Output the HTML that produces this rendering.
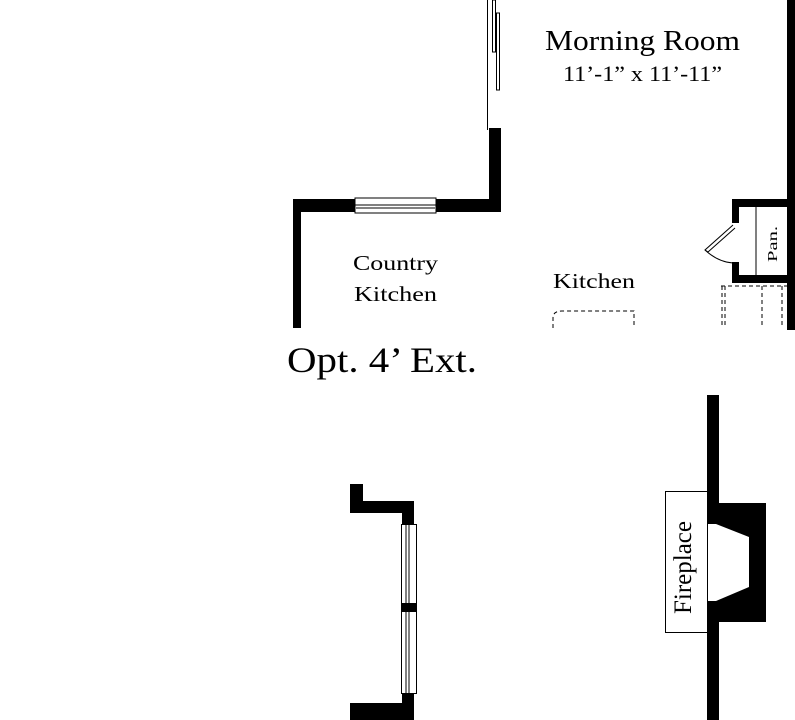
<!DOCTYPE html>
<html><head><style>html,body{margin:0;padding:0;background:#fff}svg{display:block}</style></head><body>
<svg width="795" height="720" viewBox="0 0 795 720" xmlns="http://www.w3.org/2000/svg" font-family="'Liberation Serif',serif">
<rect width="795" height="720" fill="#fff"/>
<rect x="293" y="199" width="8" height="129" fill="#000"/>
<rect x="293" y="199" width="208" height="13" fill="#000"/>
<rect x="355" y="198" width="81" height="15" fill="#fff" stroke="#000" stroke-width="1"/>
<line x1="355" y1="205" x2="436" y2="205" stroke="#000"/>
<line x1="356" y1="208" x2="435" y2="208" stroke="#000"/>
<rect x="489" y="128" width="12" height="84" fill="#000"/>
<line x1="487.5" y1="0" x2="487.5" y2="130" stroke="#000"/>
<rect x="492.5" y="0" width="3" height="52" fill="#fff" stroke="#000"/>
<rect x="496.5" y="13" width="3" height="77" fill="#fff" stroke="#000"/>
<rect x="787" y="0" width="8" height="330" fill="#000"/>
<rect x="732" y="199" width="63" height="8" fill="#000"/>
<rect x="732" y="199" width="7" height="24" fill="#000"/>
<rect x="732" y="262" width="7" height="21" fill="#000"/>
<rect x="732" y="275" width="63" height="8" fill="#000"/>
<line x1="756" y1="207" x2="756" y2="275" stroke="#000"/>
<path d="M733,225 L705,250 L708,252 L735,228" fill="#fff" stroke="#000"/>
<path d="M705,250 Q718,262 733,263" fill="none" stroke="#000"/>
<text transform="translate(777,244) rotate(-90)" font-size="14" text-anchor="middle" textLength="36" lengthAdjust="spacingAndGlyphs">Pan.</text>
<g stroke="#000" stroke-dasharray="4,3" fill="none">
<line x1="721" y1="286" x2="795" y2="286"/>
<line x1="722" y1="286" x2="722" y2="328"/>
<line x1="725" y1="286" x2="725" y2="328"/>
<line x1="762" y1="286" x2="762" y2="328"/>
<line x1="782" y1="286" x2="782" y2="328"/>
<path d="M553,328 L553,318 Q553,311 562,311 L634,311 L634,328"/>
</g>
<text x="545" y="50" font-size="28" textLength="195" lengthAdjust="spacingAndGlyphs">Morning Room</text>
<text x="563" y="81" font-size="22" textLength="159" lengthAdjust="spacingAndGlyphs">11’-1” x 11’-11”</text>
<text x="353" y="270" font-size="21" textLength="85" lengthAdjust="spacingAndGlyphs">Country</text>
<text x="354" y="301" font-size="21" textLength="83" lengthAdjust="spacingAndGlyphs">Kitchen</text>
<text x="553" y="288" font-size="21" textLength="82" lengthAdjust="spacingAndGlyphs">Kitchen</text>
<text x="287" y="372" font-size="36" textLength="190" lengthAdjust="spacingAndGlyphs">Opt. 4’ Ext.</text>
<rect x="707" y="395" width="12" height="325" fill="#000"/>
<rect x="719" y="503" width="47" height="119" fill="#000"/>
<polygon points="707,524 716,524 749,537 749,587 716,601 707,601" fill="#fff"/>
<rect x="665.5" y="491.5" width="42" height="141" fill="#fff" stroke="#000"/>
<text transform="translate(691,614) rotate(-90)" font-size="25" textLength="93" lengthAdjust="spacingAndGlyphs">Fireplace</text>
<rect x="350" y="484" width="13" height="29" fill="#000"/>
<rect x="350" y="501" width="64" height="12" fill="#000"/>
<rect x="402" y="501" width="12" height="23" fill="#000"/>
<rect x="401.5" y="524.5" width="15" height="169" fill="#fff" stroke="#000"/>
<line x1="406" y1="525" x2="406" y2="693" stroke="#000"/>
<line x1="409" y1="525" x2="409" y2="693" stroke="#000"/>
<rect x="402" y="603" width="14" height="9" fill="#000"/>
<rect x="402" y="693" width="12" height="12" fill="#000"/>
<rect x="350" y="703" width="64" height="17" fill="#000"/>
</svg>
</body></html>
